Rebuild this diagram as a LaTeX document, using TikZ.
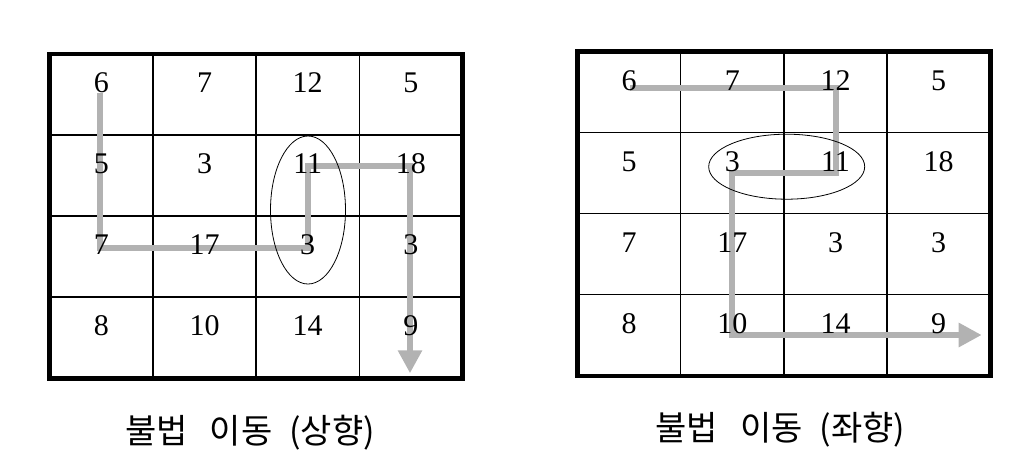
\documentclass[tikz,border=0pt]{standalone}
\usepackage{fontspec}
\setmainfont{Liberation Serif}
\newfontfamily\krfont{Noto Sans CJK KR}
\usetikzlibrary{arrows.meta,shapes.geometric}
\definecolor{pathgray}{RGB}{178,178,178}
\begin{document}
\begin{tikzpicture}[x=1pt,y=-1pt,
  num/.style={font=\fontsize{30}{36}\selectfont, anchor=base, inner sep=0pt},
  outer/.style={line width=4.5pt},
  inner/.style={line width=1.5pt},
  movepath/.style={draw=pathgray, line width=6pt, line join=miter,
     -{Triangle[length=23pt,width=23pt]}},
  ring/.style={line width=0.8pt},
  caption/.style={font=\krfont\fontsize{34}{40}\selectfont, anchor=base, inner sep=0pt}]
\useasboundingbox (0,0) rectangle (1031,471);
% ---------- left grid ----------
\begin{scope}[shift={(49.7,53.8)}]
  \foreach \i in {1,2,3} {
    \draw[inner] (\i*103.2,0) -- (\i*103.2,324.5);
    \draw[inner] (0,\i*81.1) -- (412.8,\i*81.1);
  }
  \draw[outer] (0,0) rectangle (412.8,324.5);
  \coordinate (la) at (50.6,39);
  \coordinate (lb) at (50.6,194);
  \coordinate (lc) at (258.3,194);
  \coordinate (ld) at (258.3,112);
  \coordinate (le) at (360.3,112);
  \coordinate (lf) at (360.3,319.5);
  \draw[movepath] (la) -- (lb) -- (lc) -- (ld) -- (le) -- (lf);
  \foreach \r/\c/\t in {1/1/6,1/2/7,1/3/12,1/4/5,
                        2/1/5,2/2/3,2/3/11,2/4/18,
                        3/1/7,3/2/17,3/3/3,3/4/3,
                        4/1/8,4/2/10,4/3/14,4/4/9}
    \node[num] (L\r\c) at ({(\c-0.5)*103.2},{(\r-1)*81.1+38.5}) {\t};
  \node[draw, ring, ellipse, minimum width=75pt, minimum height=148pt, inner sep=0pt]
     (lring) at (258.3,156.2) {};
\end{scope}
% ---------- right grid ----------
\begin{scope}[shift={(577.5,51.7)}]
  \foreach \i in {1,2,3} {
    \draw[inner] (\i*103.2,0) -- (\i*103.2,324.1);
    \draw[inner] (0,\i*81.0) -- (413,\i*81.0);
  }
  \draw[outer] (0,0) rectangle (413,324.1);
  \coordinate (ra) at (52.5,36);
  \coordinate (rb) at (258.5,36);
  \coordinate (rc) at (258.5,121.3);
  \coordinate (rd) at (154.2,121.3);
  \coordinate (re) at (154.2,283.3);
  \coordinate (rf) at (404.2,283.3);
  \draw[movepath] (ra) -- (rb) -- (rc) -- (rd) -- (re) -- (rf);
  \foreach \r/\c/\t in {1/1/6,1/2/7,1/3/12,1/4/5,
                        2/1/5,2/2/3,2/3/11,2/4/18,
                        3/1/7,3/2/17,3/3/3,3/4/3,
                        4/1/8,4/2/10,4/3/14,4/4/9}
    \node[num] (R\r\c) at ({(\c-0.5)*103.2},{(\r-1)*81.0+38.3}) {\t};
  \node[draw, ring, ellipse, minimum width=156pt, minimum height=65pt, inner sep=0pt]
     (rring) at (209.2,115) {};
\end{scope}
% ---------- captions ----------
\node[caption] (capl) at (250,443) {불법\hspace{22pt}이동\hspace{17pt}(상향)};
\node[caption] (capr) at (780.5,440) {불법\hspace{22pt}이동\hspace{17pt}(좌향)};
\end{tikzpicture}
\end{document}
